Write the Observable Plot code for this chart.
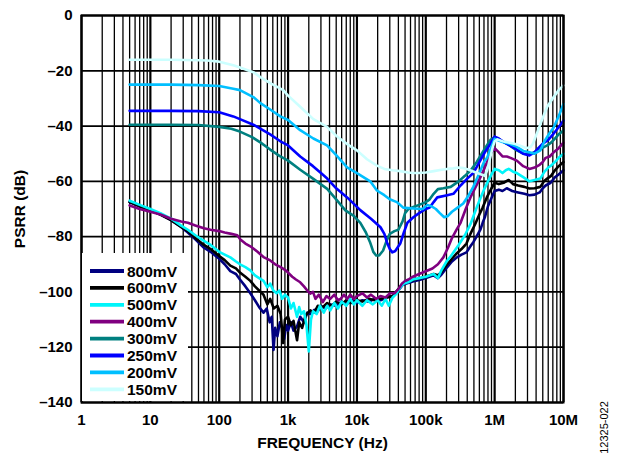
<!DOCTYPE html>
<html><head><meta charset="utf-8">
<script src="https://cdn.jsdelivr.net/npm/d3@7"></script>
<script src="https://cdn.jsdelivr.net/npm/@observablehq/plot@0.6"></script>
<style>body{margin:0;background:#fff} svg{display:block}</style>
</head><body><div id="chart"></div>
<script>
// [frequency Hz, PSRR dB]
const s800 = [[5,-67.5],[7,-69],[10,-70.5],[14,-72],[20,-74],[28,-76.5],[35,-78.5],[45,-81],[60,-84],[75,-85.5],[100,-88],[120,-90],[145,-92.5],[175,-93.5],[200,-95.5],[240,-98],[283,-100.5],[330,-103],[380,-105.5],[440,-107.5],[490,-106],[540,-111],[580,-109],[615,-121],[650,-113],[700,-116],[760,-111],[820,-113],[880,-117],[940,-112],[1000,-114],[1100,-111],[1200,-114],[1350,-112.5],[1500,-109],[1700,-111],[1900,-107.5],[2100,-108],[2400,-106.5],[2700,-107],[3000,-105],[3500,-106],[4000,-104.5],[5000,-105],[6000,-103.5],[7000,-104.5],[8500,-103],[10000,-104],[12000,-103],[15000,-103.5],[18000,-102.5],[22000,-103],[27000,-102],[33000,-101.5],[40000,-99.5],[46000,-97.5],[52000,-97],[60000,-96.5],[70000,-96],[85000,-95.5],[100000,-95],[130000,-94],[150000,-95],[165000,-94],[205000,-91],[240000,-89],[283000,-87.5],[330000,-86.5],[390000,-85.7],[445000,-83.5],[490000,-82],[560000,-79.5],[620000,-77.5],[670000,-75],[720000,-73],[800000,-69],[900000,-66],[1000000,-63.5],[1150000,-63],[1300000,-63.5],[1500000,-62.5],[1800000,-63.5],[2200000,-64],[2700000,-64.5],[3200000,-65],[3800000,-64.8],[4500000,-64],[5000000,-62.5],[5500000,-61.5],[6500000,-60.5],[7500000,-58.5],[8500000,-57.5],[10000000,-56]];
const s600 = [[5,-67.5],[7,-69],[10,-70.5],[14,-72],[20,-74],[28,-76.5],[35,-78],[45,-80.5],[60,-83],[75,-84.5],[100,-87],[120,-88.5],[145,-90.5],[175,-91.5],[200,-93],[240,-94.5],[283,-96],[330,-98],[380,-99.5],[440,-101],[500,-104.5],[550,-102.5],[620,-106],[700,-105],[780,-108],[850,-118.5],[900,-110],[1000,-109],[1100,-112],[1200,-110.5],[1350,-117.5],[1450,-111],[1600,-113],[1800,-108.5],[2100,-106.7],[2400,-107.5],[2700,-105],[3200,-105.5],[3700,-104],[4300,-105],[5000,-103.5],[6000,-104.5],[7000,-103],[8500,-104],[10000,-103],[12000,-103.5],[15000,-102.5],[18000,-103],[22000,-102.5],[27000,-102],[33000,-101.5],[40000,-99],[46000,-97],[52000,-96.5],[60000,-96],[70000,-95.5],[85000,-95],[100000,-94.5],[130000,-93.5],[150000,-94],[165000,-93],[205000,-90],[240000,-88],[283000,-86],[330000,-84.5],[390000,-82.5],[445000,-79],[520000,-75.5],[600000,-72],[670000,-69.5],[780000,-65.5],[900000,-62.5],[1000000,-60.5],[1150000,-61],[1350000,-60.5],[1600000,-59.5],[1850000,-61],[2200000,-61.5],[2700000,-62],[3200000,-62.6],[3800000,-62.5],[4600000,-62],[5200000,-60],[5800000,-59],[6600000,-58],[7500000,-56],[8500000,-54.5],[10000000,-53]];
const s500 = [[5,-67],[7,-68.5],[10,-70],[14,-71.5],[20,-73.5],[28,-76],[35,-77.5],[45,-79.5],[60,-81.5],[75,-83],[100,-85.5],[120,-86.5],[145,-87.5],[175,-89],[200,-90],[240,-91],[283,-92.2],[330,-94],[380,-95],[440,-96],[500,-98.3],[550,-97],[610,-99.5],[680,-100.5],[750,-99.5],[820,-102.5],[900,-101],[1000,-102],[1100,-106],[1200,-104],[1350,-109],[1450,-105.5],[1550,-108],[1700,-107],[1850,-112],[2000,-121.5],[2150,-110],[2300,-107],[2600,-108],[2900,-105],[3300,-107.5],[3700,-105],[4100,-106.7],[4700,-104],[5300,-106],[6000,-103.5],[7000,-105],[8000,-102.5],[9000,-104.5],[10000,-103],[12000,-105],[14000,-103],[17000,-104.5],[20000,-103],[23000,-105],[26000,-102.5],[29000,-105],[33000,-102],[38000,-100.5],[42000,-98.5],[48000,-97],[55000,-96.5],[65000,-95.5],[80000,-95],[100000,-94.5],[130000,-93.5],[150000,-95],[170000,-92],[200000,-89],[240000,-86.5],[300000,-83],[370000,-79.5],[445000,-75.5],[520000,-71],[600000,-67],[700000,-63],[800000,-60],[900000,-57.5],[1000000,-55.5],[1150000,-56],[1300000,-57],[1450000,-56],[1600000,-55.5],[1850000,-56.5],[2100000,-57],[2600000,-58.5],[3200000,-60],[3800000,-59.5],[4600000,-59],[5300000,-56.5],[6000000,-55],[6600000,-54.3],[7500000,-53],[8500000,-51.5],[10000000,-50]];
const s400 = [[5,-68.7],[7,-70],[10,-71],[14,-72],[20,-73.5],[28,-74.5],[35,-75],[45,-76],[60,-77],[75,-77.5],[100,-78],[120,-78.5],[150,-79],[183,-79.5],[203,-81],[240,-82.5],[283,-83.5],[313,-84.3],[360,-85.5],[440,-87.4],[550,-88.6],[650,-90],[780,-91],[900,-92],[1000,-93],[1150,-94.5],[1300,-95.5],[1500,-96.5],[1700,-98],[1900,-99.5],[2100,-100.6],[2300,-100],[2500,-102.5],[2800,-101],[3200,-103.7],[3600,-101.5],[4100,-102.5],[4700,-101],[5300,-103],[5800,-102.5],[6500,-101],[7200,-102.5],[8000,-101],[9000,-102.5],[10000,-101.5],[12000,-100.5],[14000,-102],[16000,-101],[19000,-102.5],[22000,-101.5],[26000,-102],[30000,-100.5],[35000,-100.5],[40000,-99],[45000,-97],[50000,-96],[56000,-95.5],[65000,-94.5],[80000,-93.5],[100000,-92.5],[125000,-91.5],[150000,-90],[180000,-87.5],[210000,-84],[240000,-80.5],[280000,-77.5],[320000,-75],[380000,-70],[445000,-65.8],[530000,-62],[620000,-58.6],[720000,-55],[870000,-50],[1000000,-48],[1150000,-49.5],[1300000,-51],[1500000,-51],[1700000,-51.5],[2100000,-52.5],[2600000,-54.5],[3200000,-55.5],[3800000,-55],[4500000,-54],[5000000,-53],[5500000,-51.5],[6300000,-51],[7200000,-49.5],[8500000,-48],[10000000,-46]];
const s300 = [[5,-39.5],[10,-39.5],[20,-39.5],[50,-39.6],[100,-40.3],[150,-41],[200,-42],[300,-44],[400,-46],[550,-48.5],[750,-50.8],[1000,-52.5],[1500,-55.8],[2300,-59],[3700,-62.7],[5000,-66.5],[6800,-70.5],[9000,-72.5],[11200,-75],[13500,-78.5],[15500,-82],[17300,-85.5],[19000,-86.8],[21000,-86.8],[24000,-85],[27000,-81.5],[30000,-79],[35000,-78],[40000,-77.5],[46000,-74.5],[50000,-71.5],[56000,-70],[66000,-69.3],[80000,-68.5],[100000,-67.5],[114000,-66.5],[130000,-64.5],[150000,-62.8],[180000,-62.5],[230000,-62],[300000,-60],[370000,-58],[450000,-56],[550000,-53],[650000,-50],[750000,-47.5],[870000,-45],[1000000,-44],[1200000,-45],[1400000,-46],[1650000,-47],[2000000,-48.5],[2600000,-50],[3200000,-50.2],[3800000,-49.5],[4300000,-48.5],[5000000,-47.8],[5800000,-47],[6600000,-46],[7500000,-44.5],[8500000,-43],[10000000,-41.6]];
const s250 = [[5,-34.5],[10,-34.5],[20,-34.5],[50,-34.6],[100,-35],[160,-36.5],[200,-37.5],[313,-39.5],[400,-41],[550,-43],[773,-45.5],[1000,-47],[1500,-51],[2300,-54.5],[3000,-57],[3700,-59],[5000,-62.5],[7200,-65.8],[11300,-70.5],[16000,-73.5],[22000,-76.6],[25000,-79],[27700,-82.5],[30000,-84.5],[32700,-85.7],[36000,-85.2],[42600,-82.5],[48000,-78.5],[54000,-75],[66000,-73],[80000,-71.5],[100000,-70],[114000,-69.5],[130000,-67.5],[147000,-65.8],[205000,-65],[252000,-64.5],[320000,-61.5],[400000,-59],[490000,-57],[600000,-53],[720000,-49.5],[870000,-46.4],[1000000,-43.8],[1150000,-44.5],[1300000,-45.5],[1650000,-47],[2100000,-48.5],[2600000,-50],[3200000,-50.6],[3800000,-49.5],[4300000,-48],[5000000,-46.4],[6000000,-45],[7200000,-42.7],[8500000,-40.4],[10000000,-38]];
const s200 = [[5,-25],[10,-25],[20,-25],[50,-25.2],[100,-25.5],[160,-26.5],[200,-27],[313,-29.5],[396,-31.7],[550,-34],[773,-36.5],[1000,-37.8],[1500,-41.5],[2330,-44.5],[3680,-47],[5000,-50.5],[7200,-54.9],[10000,-57],[15600,-60],[19500,-63.3],[25000,-65],[30000,-66.5],[38000,-67.5],[47000,-69.5],[66000,-69.8],[90000,-70],[105000,-68.5],[120000,-69],[140000,-70],[160000,-71.5],[185000,-73],[210000,-72.5],[240000,-71],[290000,-69.5],[350000,-68],[420000,-65],[490000,-62],[600000,-57],[700000,-53],[780000,-51.4],[900000,-47.5],[1000000,-44.6],[1150000,-45.2],[1300000,-45.8],[1650000,-46.4],[2100000,-47.5],[2600000,-49],[3200000,-49.5],[3800000,-50],[4600000,-48.8],[5300000,-45.5],[6300000,-42.5],[7200000,-40.5],[8500000,-36.5],[10000000,-32]];
const s150 = [[5,-16],[10,-16],[20,-16],[50,-16.2],[67,-16.3],[100,-16.7],[160,-18],[200,-18.8],[313,-20.5],[396,-22.3],[550,-24.5],[850,-27],[1000,-29],[1500,-33],[2330,-37.5],[3680,-40.3],[5000,-43.5],[7200,-46.5],[10000,-48.8],[14000,-52],[19500,-54.3],[25000,-55.5],[33000,-56],[42600,-56.3],[55000,-56.8],[66000,-57],[80000,-57],[100000,-56.8],[130000,-56.3],[170000,-55.8],[205000,-55.5],[250000,-55.3],[300000,-55],[350000,-55.2],[420000,-55.8],[500000,-56.5],[560000,-57],[640000,-57.5],[720000,-58],[780000,-56],[850000,-52],[930000,-48],[1000000,-45.5],[1100000,-44.8],[1300000,-45.5],[1650000,-46],[2000000,-46.5],[2300000,-47],[2900000,-48],[3300000,-47.6],[3600000,-46.4],[4200000,-42],[5000000,-37],[5800000,-33],[7200000,-29.5],[8500000,-27],[10000000,-25.3]];

const seriesNames = ["800mV","600mV","500mV","400mV","300mV","250mV","200mV","150mV"];
const seriesColors = ["#000080","#000000","#00F5FA","#800080","#008080","#0000FF","#00BFFF","#CCFFFF"];
const seriesData = [s800,s600,s500,s400,s300,s250,s200,s150];
const xTicks = [1,10,100,1000,10000,100000,1000000,10000000];
const xTickLabels = ["1","10","100","1k","10k","100k","1M","10M"];
const yTicks = [0,-20,-40,-60,-80,-100,-120,-140];

const rows = seriesNames.flatMap((name,i) => seriesData[i].map(([f,db]) => ({name,f,db})));
const minor = xTicks.slice(0,-1).flatMap(d => d3.range(2,10).map(m => m*d));

const plot = Plot.plot({
  width: 623, height: 457,
  marginLeft: 81, marginRight: 60, marginTop: 15, marginBottom: 55,
  style: {fontFamily: "'Liberation Sans', Arial, sans-serif", fontWeight: "bold", fontSize: "15px", background: "white", color: "black"},
  x: {type: "log", domain: [1, 1e7]},
  y: {domain: [-140, 0]},
  color: {domain: seriesNames, range: seriesColors},
  marks: [
    Plot.ruleX(minor, {stroke: "black", strokeWidth: 1.3}),
    Plot.ruleX(xTicks, {stroke: "black", strokeWidth: 2.2}),
    Plot.ruleY(yTicks, {stroke: "black", strokeWidth: 1.8}),
    Plot.line(rows, {x: "f", y: "db", z: "name", stroke: "name", strokeWidth: 2.6}),
    Plot.axisX({ticks: xTicks, tickFormat: d => xTickLabels[xTicks.indexOf(d)], tickSize: 0, tickPadding: 12, label: null}),
    Plot.axisY({ticks: yTicks, tickFormat: d => d === 0 ? "0" : "\u2013" + (-d), tickSize: 0, tickPadding: 9, label: null}),
    Plot.text(["FREQUENCY (Hz)"], {frameAnchor: "bottom", dy: 41, fontSize: 15.5, textAnchor: "middle", lineAnchor: "middle"}),
    Plot.text(["PSRR (dB)"], {frameAnchor: "left", dx: -61, rotate: -90, fontSize: 15.5, textAnchor: "middle", lineAnchor: "middle"}),
    Plot.text(["12325-022"], {frameAnchor: "bottom-right", dx: 41, dy: 25, rotate: -90, fontSize: 11, fontWeight: "normal", textAnchor: "middle", lineAnchor: "middle"}),
    Plot.frame({stroke: "black", strokeWidth: 2})
  ]
});
document.getElementById("chart").appendChild(plot);

// legend box drawn over the grid (inside the frame edges)
const lg = d3.select(plot).append("g").attr("text-anchor", "start");
lg.append("rect").attr("x", 82).attr("y", 253).attr("width", 106).attr("height", 148)
  .style("fill", "white").style("stroke", "none");
seriesNames.forEach((name, i) => {
  const y = 271 + i * 16.9;
  lg.append("line").attr("x1", 90).attr("x2", 124).attr("y1", y).attr("y2", y)
    .style("stroke", seriesColors[i]).style("stroke-width", 3.8);
  lg.append("text").attr("x", 127).attr("y", y).attr("dy", "0.36em").attr("text-anchor", "start")
    .style("font-size", "15.5px").style("font-weight", "bold").style("fill", "black").text(name);
});
</script>
</body></html>
